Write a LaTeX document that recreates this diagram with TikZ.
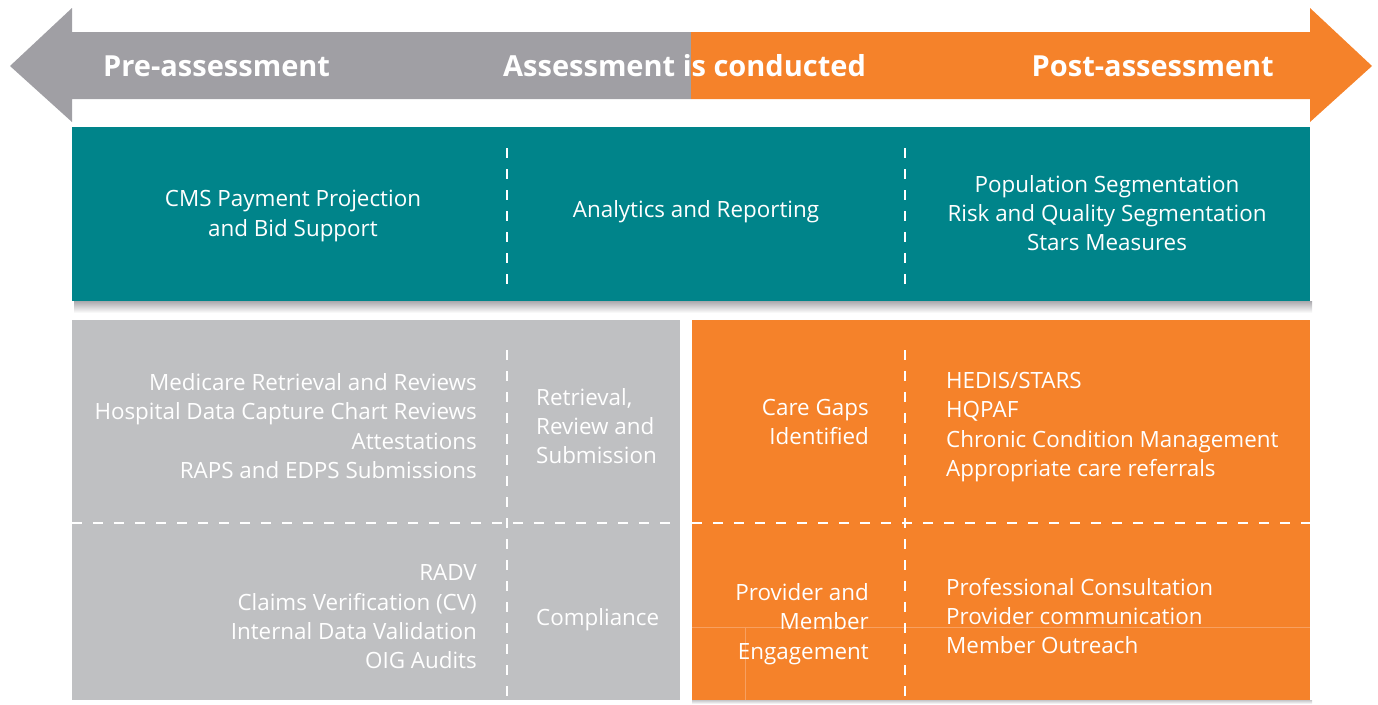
\documentclass[tikz,border=0pt]{standalone}
\usepackage{fontspec}
\setmainfont{Open Sans}
\usetikzlibrary{shapes.geometric}
\definecolor{arrgray}{HTML}{A09FA4}
\definecolor{orng}{HTML}{F5822A}
\definecolor{teal1}{HTML}{00848A}
\definecolor{boxgray}{HTML}{BFC0C2}
\definecolor{faintline}{HTML}{F8A060}
\tikzset{
  head/.style={text=white, font=\bfseries\fontsize{29}{32}\selectfont, inner sep=0pt},
  body/.style={text=white, font=\fontsize{22.4}{29.3}\selectfont, inner sep=0pt},
  sep/.style={draw=white, line width=1.8pt, dash pattern=on 10pt off 11pt},
}
\begin{document}
\begin{tikzpicture}[x=1pt,y=-1pt]
\useasboundingbox (0,0) rectangle (1378,704);
% timeline arrow
\fill[arrgray] (691,32) -- (72,32) -- (72,8) -- (10,66) -- (72,122) -- (72,99) -- (691,99) -- cycle;
\fill[orng] (691,32) -- (1310,32) -- (1310,8) -- (1372,66) -- (1310,122) -- (1310,99) -- (691,99) -- cycle;
\node[head, anchor=west] (pre) at (103,66) {Pre-assessment};
\node[head, anchor=west] (mid) at (503,66) {Assessment is conducted};
\node[head, anchor=east] (post) at (1274,66) {Post-assessment};
% teal box with shadow
\shade[top color=arrgray!90, bottom color=white] (74,301) rectangle (1312,313);
\fill[teal1] (72,127) rectangle (1310,301);
\draw[sep] (507,148) -- (507,290);
\draw[sep] (905,148) -- (905,290);
\node[body, align=center] (cms) at (293,216) {CMS Payment Projection\\and Bid Support};
\node[body, align=center] (ana) at (696,212) {Analytics and Reporting};
\node[body, align=center] (pop) at (1107,213) {Population Segmentation\\Risk and Quality Segmentation\\Stars Measures};
% lower boxes
\shade[top color=arrgray!60, bottom color=white] (692,700) rectangle (1312,704);
\fill[boxgray] (72,320) rectangle (680,700);
\fill[orng] (692,320) rectangle (1310,700);
\draw[draw=faintline, line width=0.8pt] (692,627) -- (1310,627);
\draw[draw=faintline, line width=0.8pt] (745,627) -- (745,700);
\draw[sep] (507,350) -- (507,700);
\draw[sep] (905,350) -- (905,700);
\draw[sep] (72,523) -- (680,523);
\draw[sep] (692,523) -- (1310,523);
% gray box texts
\node[body, align=right, anchor=east] (med) at (477,426) {Medicare Retrieval and Reviews\\Hospital Data Capture Chart Reviews\\Attestations\\RAPS and EDPS Submissions};
\node[body, align=left, anchor=west] (ret) at (536,426) {Retrieval,\\Review and\\Submission};
\node[body, align=right, anchor=east] (radv) at (477,617) {RADV\\Claims Verification (CV)\\Internal Data Validation\\OIG Audits};
\node[body, align=left, anchor=west] (comp) at (536,620) {Compliance};
\node[body, align=right, anchor=east] (care) at (869,422) {Care Gaps\\Identified};
\node[body, align=left, anchor=west] (hed) at (946,427) {HEDIS/STARS\\HQPAF\\Chronic Condition Management\\Appropriate care referrals};
\node[body, align=right, anchor=east] (prov) at (869,624) {Provider and\\Member\\Engagement};
\node[body, align=left, anchor=west] (prof) at (946,616) {Professional Consultation\\Provider communication\\Member Outreach};
\end{tikzpicture}
\end{document}
